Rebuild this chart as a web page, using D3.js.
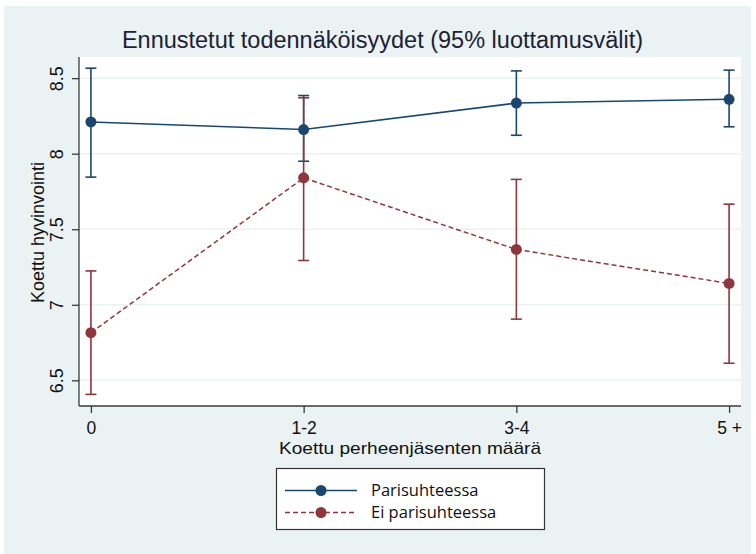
<!DOCTYPE html>
<html>
<head>
<meta charset="utf-8">
<script src="https://cdn.jsdelivr.net/npm/d3@7/dist/d3.min.js"></script>
<style>
  html, body { margin: 0; padding: 0; background: #ffffff; }
  svg { display: block; }
</style>
</head>
<body>
<svg id="chart" width="756" height="554"></svg>
<script>
// ---- data ----
const categories = ["0", "1-2", "3-4", "5 +"];
const seriesNames = ["Parisuhteessa", "Ei parisuhteessa"];
const coupleMean  = [8.21, 8.16, 8.335, 8.36];
const coupleLow   = [7.845, 7.95, 8.122, 8.178];
const coupleHigh  = [8.566, 8.385, 8.548, 8.553];
const singleMean  = [6.815, 7.84, 7.366, 7.141];
const singleLow   = [6.407, 7.293, 6.905, 6.613];
const singleHigh  = [7.224, 8.37, 7.83, 7.666];
const yTicks = [6.5, 7, 7.5, 8, 8.5];
const yTickLabels = ["6.5", "7", "7.5", "8", "8.5"];
const titleText = "Ennustetut todennäköisyydet (95% luottamusvälit)";
const xTitle = "Koettu perheenjäsenten määrä";
const yTitle = "Koettu hyvinvointi";

const navy = "#1a476f", maroon = "#90353b", bg = "#eaf2f3";
const FONT = "'Liberation Sans', Arial, sans-serif";

const svg = d3.select("#chart");
const W = 756, H = 554;
const plot = {left: 79, right: 741, top: 57, bottom: 406};

// background
svg.append("rect").attr("x", 4).attr("y", 6).attr("width", 747).attr("height", H - 6).attr("fill", bg);
svg.append("rect").attr("x", plot.left).attr("y", plot.top)
  .attr("width", plot.right - plot.left).attr("height", plot.bottom - plot.top).attr("fill", "#ffffff");

const x = d3.scalePoint().domain(categories).range([plot.left, plot.right]).padding(0.056);
const y = d3.scaleLinear().domain([6.33, 8.64]).range([plot.bottom, plot.top]);

// grid
svg.append("g").selectAll("line").data(yTicks).join("line")
  .attr("x1", plot.left).attr("x2", plot.right)
  .attr("y1", d => y(d)).attr("y2", d => y(d))
  .attr("stroke", bg).attr("stroke-width", 1.5);

// axes
const yAxis = d3.axisLeft(y).tickValues(yTicks).tickFormat((d, i) => yTickLabels[i]).tickSize(7).tickPadding(0);
const gy = svg.append("g").attr("transform", `translate(${plot.left},0)`).call(yAxis);
gy.select(".domain").attr("stroke", "#3a3a3a").attr("stroke-width", 1.3).attr("d", `M0,${plot.top}V${plot.bottom}`);
gy.selectAll(".tick line").attr("stroke", "#3a3a3a").attr("stroke-width", 1.3);
gy.selectAll(".tick text")
  .attr("transform", "rotate(-90)")
  .attr("x", 0).attr("y", -16).attr("dy", 0)
  .attr("text-anchor", "middle")
  .style("font-family", FONT)
  .style("font-size", "18px").attr("fill", "#111");

const xAxis = d3.axisBottom(x).tickSize(7).tickPadding(0);
const gx = svg.append("g").attr("transform", `translate(0,${plot.bottom})`).call(xAxis);
gx.select(".domain").attr("stroke", "#3a3a3a").attr("stroke-width", 1.3).attr("d", `M${plot.left},0H${plot.right}`);
gx.selectAll(".tick line").attr("stroke", "#3a3a3a").attr("stroke-width", 1.3);
gx.selectAll(".tick text")
  .attr("y", 27.5).attr("dy", 0)
  .style("font-family", FONT)
  .style("font-size", "17.5px").attr("fill", "#111");

// series
const series = [
  {name: seriesNames[0], mean: coupleMean, low: coupleLow, high: coupleHigh, color: navy, dash: null},
  {name: seriesNames[1], mean: singleMean, low: singleLow, high: singleHigh, color: maroon, dash: "5,3"}
];
const capW = 5.5;
const line = d3.line().x((d, i) => x(categories[i])).y(d => y(d));

series.forEach(s => {
  const g = svg.append("g");
  categories.forEach((c, i) => {
    const cx = x(c);
    g.append("line").attr("x1", cx).attr("x2", cx).attr("y1", y(s.low[i])).attr("y2", y(s.high[i]))
      .attr("stroke", s.color).attr("stroke-width", 1.6);
    [s.low[i], s.high[i]].forEach(v => {
      g.append("line").attr("x1", cx - capW).attr("x2", cx + capW).attr("y1", y(v)).attr("y2", y(v))
        .attr("stroke", s.color).attr("stroke-width", 1.6);
    });
  });
});
series.forEach(s => {
  const g = svg.append("g");
  g.append("path").attr("d", line(s.mean)).attr("fill", "none")
    .attr("stroke", s.color).attr("stroke-width", 1.5)
    .attr("stroke-dasharray", s.dash);
  g.selectAll("circle").data(s.mean).join("circle")
    .attr("cx", (d, i) => x(categories[i])).attr("cy", d => y(d)).attr("r", 5.5)
    .attr("fill", s.color);
});

// titles
svg.append("text").attr("x", 382.5).attr("y", 48).attr("text-anchor", "middle")
  .style("font-family", FONT).style("font-size", "23.5px")
  .attr("fill", "#1c2233").text(titleText);
svg.append("text").attr("x", 410).attr("y", 454).attr("text-anchor", "middle")
  .attr("textLength", 262).attr("lengthAdjust", "spacingAndGlyphs")
  .style("font-family", FONT).style("font-size", "17px")
  .attr("fill", "#111").text(xTitle);
svg.append("text").attr("transform", `translate(44,${(plot.top + plot.bottom) / 2 + 1}) rotate(-90)`)
  .attr("text-anchor", "middle")
  .style("font-family", FONT).style("font-size", "18px")
  .attr("fill", "#111").text(yTitle);

// legend
const lg = svg.append("g");
lg.append("rect").attr("x", 276.5).attr("y", 468.5).attr("width", 268).attr("height", 61)
  .attr("fill", "#fff").attr("stroke", "#333").attr("stroke-width", 1.2);
series.forEach((s, i) => {
  const yy = 490.5 + i * 22;
  lg.append("line").attr("x1", 285).attr("x2", 357).attr("y1", yy).attr("y2", yy)
    .attr("stroke", s.color).attr("stroke-width", 1.5).attr("stroke-dasharray", s.dash);
  lg.append("circle").attr("cx", 321).attr("cy", yy).attr("r", 5.5).attr("fill", s.color);
  lg.append("text").attr("x", 371).attr("y", yy + 5)
    .style("font-family", "'Open Sans', 'Noto Sans', sans-serif").style("font-size", "16.5px")
    .attr("fill", "#111").text(s.name);
});
</script>
</body>
</html>
